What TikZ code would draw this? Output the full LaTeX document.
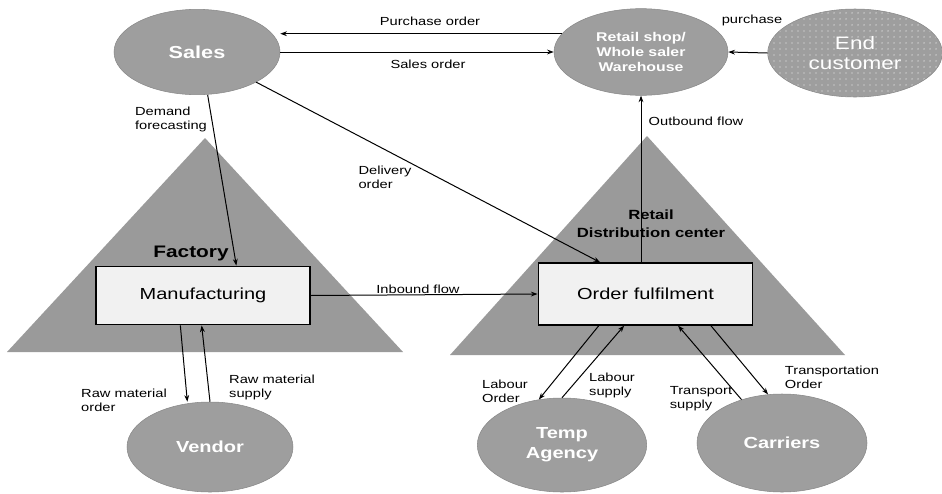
\documentclass[tikz,border=0pt]{standalone}
\usepackage{fontspec}
\setmainfont{Liberation Sans}[FakeStretch=1.25]
\usepackage{tikz}
\usetikzlibrary{shapes,arrows,positioning,calc,patterns,patterns.meta,arrows.meta}

\definecolor{trigray}{HTML}{9A9A9A}
\definecolor{ellgray}{HTML}{9E9E9E}
\definecolor{ellline}{HTML}{888888}
\definecolor{boxfill}{HTML}{F1F1F1}

\tikzset{
  party/.style={ellipse, draw=ellline, fill=ellgray, text=white, inner sep=0pt, align=center},
  unit/.style={rectangle, draw=black, line width=0.9pt, fill=boxfill, inner sep=0pt, font=\fontsize{12}{14}\selectfont},
  site/.style={fill=trigray, draw=none},
  flow/.style={-{Stealth[length=5pt,width=3.6pt]}, line width=0.75pt},
  lbl/.style={font=\fontsize{8.8}{10.5}\selectfont, align=left, inner sep=0pt},
}

\begin{document}
\begin{tikzpicture}[x=0.75pt, y=-0.75pt]
    \useasboundingbox (0,0) rectangle (942,493);

    % Factory and distribution center
    \fill [site] (7,352) -- (403,352) -- (205,138) -- cycle;
    \fill [site] (450,355) -- (845,355) -- (647,136) -- cycle;
    \node [font=\bfseries\fontsize{12.5}{14}\selectfont, inner sep=0pt] (fac) at (191,253) {Factory};
    \node [font=\bfseries\fontsize{10}{13.5}\selectfont, align=center, inner sep=0pt] (rdc) at (651,224) {Retail\\Distribution center};

    % Boxes
    \node [unit, minimum width=160.5pt, minimum height=44pt] (mfg) at (203,295.5) {Manufacturing};
    \node [unit, minimum width=161pt, minimum height=46.5pt] (of) at (645.5,294) {Order fulfilment};

    % Parties
    \node [party, minimum width=124.5pt, minimum height=64pt, font=\bfseries\fontsize{13}{16}\selectfont] (sales) at (197,52) {Sales};
    \node [party, minimum width=130.5pt, minimum height=65pt, font=\bfseries\fontsize{9.5}{11.25}\selectfont] (ret) at (641,52) {Retail shop/\\Whole saler\\Warehouse};
    \node [ellipse, draw=ellline, preaction={fill=ellgray}, pattern={Dots[radius=0.55pt, distance=4.5pt]}, pattern color=white!80!ellgray, text=white, inner sep=0pt, align=center, minimum width=131pt, minimum height=66pt, font=\fontsize{13.5}{15}\selectfont] (end) at (855,53) {End\\customer};
    \node [party, minimum width=124.5pt, minimum height=67.5pt, font=\bfseries\fontsize{12}{15}\selectfont] (vendor) at (210,447) {Vendor};
    \node [party, minimum width=127pt, minimum height=70.5pt, font=\bfseries\fontsize{12}{15}\selectfont] (temp) at (562,445) {Temp\\Agency};
    \node [party, minimum width=127.5pt, minimum height=73.5pt, font=\bfseries\fontsize{12}{15}\selectfont] (car) at (782,443) {Carriers};

    % Order flows at the top
    \draw [flow] (ret.167) -- (sales.east |- ret.167);
    \draw [flow] (sales.east) -- (ret.west);
    \draw [flow] (end.west) -- (ret.east);
    \draw [flow] ([xshift=8pt]sales.south) -- ([xshift=25pt]mfg.north);
    \draw [flow] (sales.333) -- ([xshift=-34pt]of.north);

    % Goods flows
    \draw [flow] (mfg.east) -- (of.west);
    \draw [flow] (ret.south |- of.north) -- (ret.south);

    % Vendor
    \draw [flow] ([xshift=-17pt]mfg.south) -- ([xshift=-17pt]vendor.north);
    \draw [flow] (vendor.north) -- ([xshift=-1pt]mfg.south);

    % Temp agency and carriers
    \draw [flow] ([xshift=-35pt]of.south) -- (temp.117);
    \draw [flow] (temp.north) -- ([xshift=-16pt]of.south);
    \draw [flow] (car.133) -- ([xshift=24.4pt]of.south);
    \draw [flow] ([xshift=49pt]of.south) -- (car.106);

    % Labels
    \node [lbl] (lpo) at (430,21) {Purchase order};
    \node [lbl] (lso) at (428,64) {Sales order};
    \node [lbl] (lpu) at (752,20) {purchase};
    \node [lbl] (ldf) at (171,119) {Demand\\forecasting};
    \node [lbl] (ldo) at (385,177) {Delivery\\order};
    \node [lbl] (lin) at (418,289) {Inbound flow};
    \node [lbl] (lout) at (696,121) {Outbound flow};
    \node [lbl] (lrmo) at (124,400) {Raw material\\order};
    \node [lbl] (lrms) at (272,387) {Raw material\\supply};
    \node [lbl] (llo) at (505,391) {Labour\\Order};
    \node [lbl] (lls) at (612,385) {Labour\\supply};
    \node [lbl] (lts) at (701,399) {Transport\\supply};
    \node [lbl] (lto) at (832,377) {Transportation\\Order};
\end{tikzpicture}
\end{document}
